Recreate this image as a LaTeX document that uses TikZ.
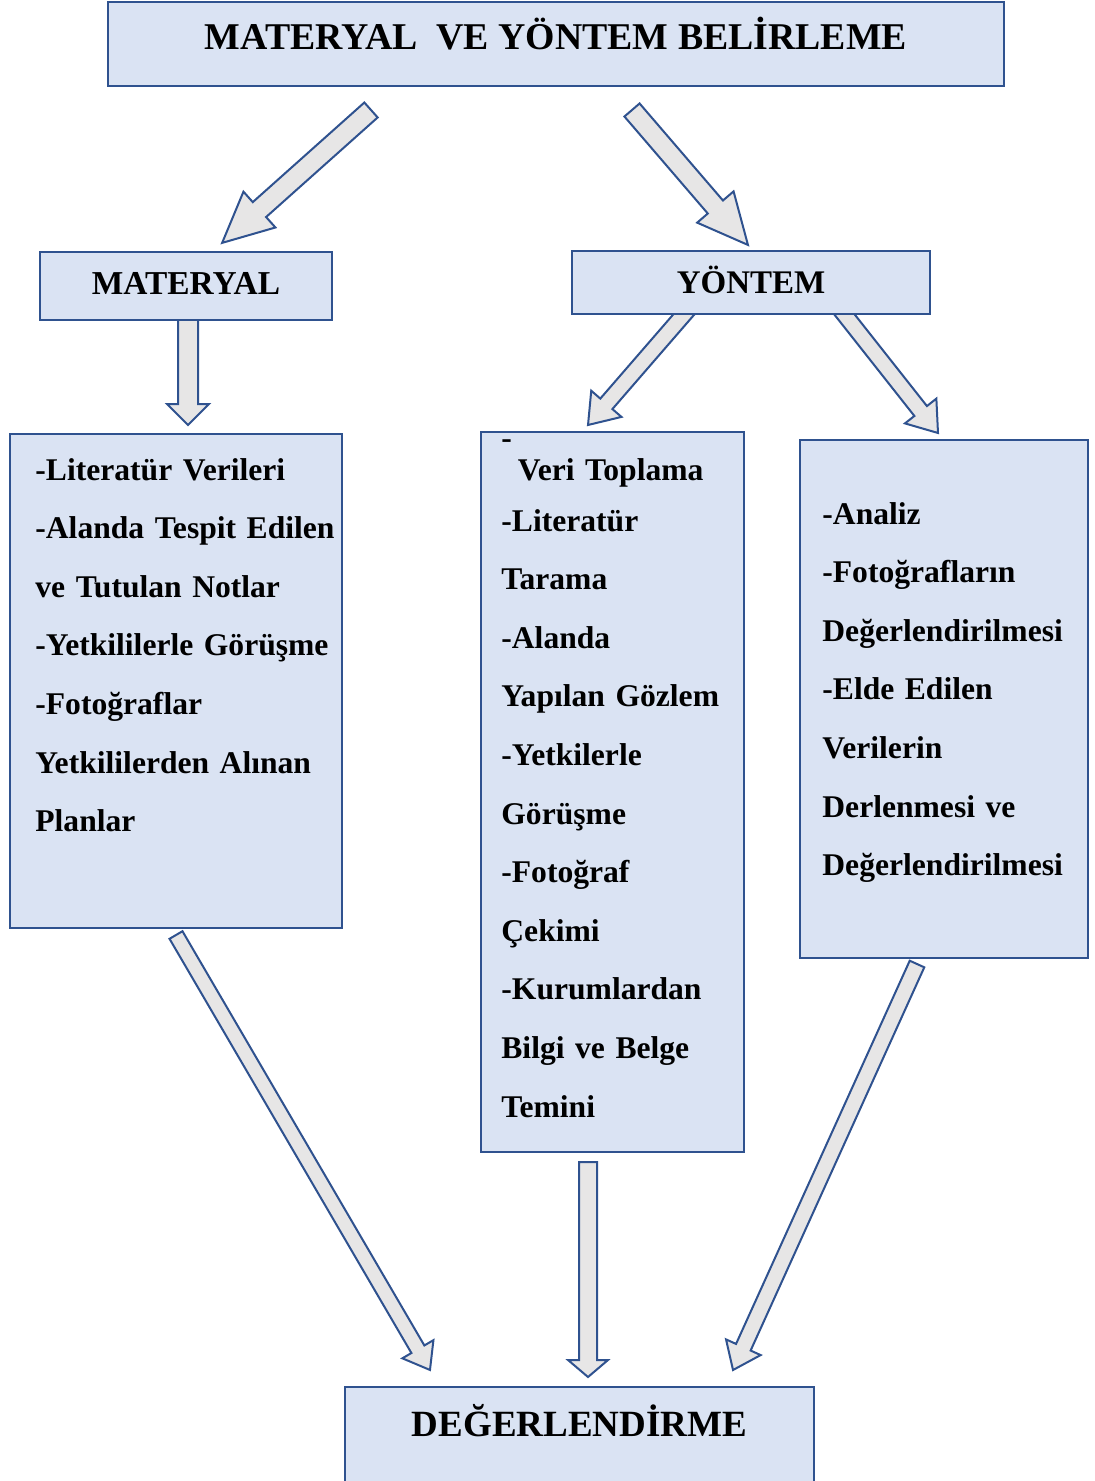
\documentclass[tikz,border=0pt]{standalone}
\usepackage{fontspec}
\setmainfont{Liberation Serif}
\usetikzlibrary{calc}

\definecolor{boxfill}{HTML}{DAE3F3}
\definecolor{boxline}{HTML}{2F528F}
\definecolor{arrfill}{HTML}{E7E6E6}

% block arrow: from, to, shaft half width, head half width, head length (in px)
\newcommand{\blockarrow}[5]{%
  \draw[blockarr] let \p1=($(#2)-(#1)$), \n1={veclen(\x1,\y1)}, \n2={atan2(\y1,\x1)} in
    [shift={(#1)}, rotate=\n2]
    (0pt,{-#3*0.5pt}) -- ({\n1-#5*0.5pt},{-#3*0.5pt}) -- ({\n1-#5*0.5pt},{-#4*0.5pt})
    -- (\n1,0pt) -- ({\n1-#5*0.5pt},{#4*0.5pt}) -- ({\n1-#5*0.5pt},{#3*0.5pt})
    -- (0pt,{#3*0.5pt}) -- cycle;}

\begin{document}
\begin{tikzpicture}[x=0.5pt, y=-0.5pt,
    box/.style={draw=boxline, fill=boxfill, line width=1.25pt, rectangle, inner sep=0pt},
    blockarr/.style={draw=boxline, fill=arrfill, line width=1pt, line join=miter},
    boxtext/.style={inner sep=0pt, anchor=base west, align=left, text width=#1,
        font=\bfseries\fontsize{15.8}{29.3}\selectfont},
    headtext/.style={inner sep=0pt, anchor=base, font=\bfseries\fontsize{#1}{#1}\selectfont}]
    \useasboundingbox (0,0) rectangle (1095,1481);

    % arrow ends
    \coordinate (t1) at (371,110);   \coordinate (m1) at (222,243);
    \coordinate (t2) at (632,110);   \coordinate (y1) at (748,245);
    \coordinate (m2) at (188,320);   \coordinate (l1) at (188,425);
    \coordinate (y2) at (692,305);   \coordinate (c1) at (588,425);
    \coordinate (y3) at (837,305);   \coordinate (r1) at (938,433);
    \coordinate (l2) at (176,935);   \coordinate (d1) at (430,1370);
    \coordinate (c2) at (588,1162);  \coordinate (d2) at (588,1377);
    \coordinate (r2) at (917,964);   \coordinate (d3) at (733,1370);

    \blockarrow{t1}{m1}{10}{24}{50}
    \blockarrow{t2}{y1}{10}{24}{50}
    \blockarrow{m2}{l1}{10}{21}{21}
    \blockarrow{y2}{c1}{8}{20}{28}
    \blockarrow{y3}{r1}{8}{20}{28}
    \blockarrow{l2}{d1}{7.5}{18}{24}
    \blockarrow{c2}{d2}{9}{20}{17}
    \blockarrow{r2}{d3}{8}{19}{25}

    % boxes
    \node[box, minimum width=448pt, minimum height=42pt] (title) at (556,44) {};
    \node[box, minimum width=146pt, minimum height=34pt] (mat) at (186,286) {};
    \node[box, minimum width=179pt, minimum height=31.5pt] (yon) at (751,282.5) {};
    \node[box, minimum width=166pt, minimum height=247pt] (lbox) at (176,681) {};
    \node[box, minimum width=131.5pt, minimum height=360pt] (cbox) at (612.5,792) {};
    \node[box, minimum width=144pt, minimum height=259pt] (rbox) at (944,699) {};
    \node[box, minimum width=234.5pt, minimum height=56.5pt] (deg) at (579.5,1443.5) {};

    % texts
    \node[headtext=18.9] (titletext) at (556,50) {MATERYAL\ \ VE YÖNTEM BELİRLEME};
    \node[headtext=16.7] (mattext) at (186,295) {MATERYAL};
    \node[headtext=16.5] (yontext) at (751,293) {YÖNTEM};
    \node[headtext=18.5] (degtext) at (579.5,1436) {DEĞERLENDİRME};

    \node[boxtext=160pt] (ltext) at (35,480) {-Literatür Verileri\\
        -Alanda Tespit Edilen\\ ve Tutulan Notlar\\ -Yetkililerle Görüşme\\
        -Fotoğraflar\\ Yetkililerden Alınan\\ Planlar};
    \node[boxtext=120pt] (ctext) at (501,480) {%
        \leavevmode\smash{\raisebox{16pt}{-}}\hspace{3pt}Veri Toplama\\[-3.8pt]
        -Literatür\\ Tarama\\ -Alanda\\ Yapılan Gözlem\\ -Yetkilerle\\ Görüşme\\
        -Fotoğraf\\ Çekimi\\ -Kurumlardan\\ Bilgi ve Belge\\ Temini};
    \node[boxtext=130pt] (rtext) at (822,524) {-Analiz\\ -Fotoğrafların\\
        Değerlendirilmesi\\ -Elde Edilen\\ Verilerin\\ Derlenmesi ve\\
        Değerlendirilmesi};
\end{tikzpicture}
\end{document}
